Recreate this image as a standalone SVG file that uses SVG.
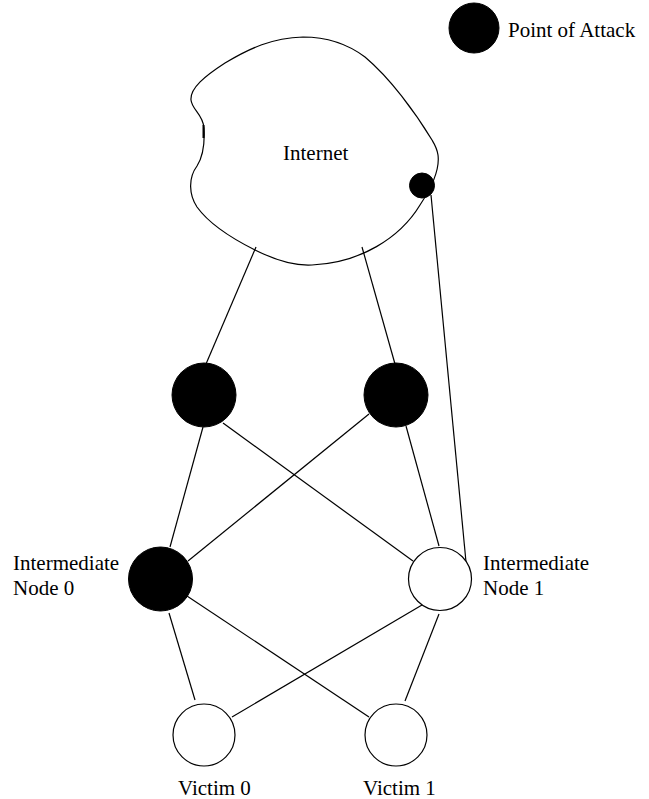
<svg xmlns="http://www.w3.org/2000/svg" width="649" height="799" viewBox="0 0 649 799">
<style>
.t{font-family:"Liberation Serif","Times New Roman",serif;font-size:21px;fill:#000}
.c{stroke:#000;stroke-width:1.2;fill:none}
.atk{fill:#000;stroke:#000;stroke-width:1}
.nd{fill:#fff;stroke:#000;stroke-width:1.2}
</style>
<rect width="649" height="799" fill="#fff"/>
<g id="legend">
<circle class="atk" cx="474" cy="28" r="25"/>
<text class="t" x="508" y="37">Point of Attack</text>
</g>
<g id="connectors">
<line class="c" x1="256" y1="247" x2="206" y2="364"/>
<line class="c" x1="362" y1="247" x2="395" y2="364"/>
<line class="c" x1="431" y1="195" x2="466" y2="562"/>
<line class="c" x1="203" y1="427" x2="170" y2="547"/>
<line class="c" x1="223" y1="423" x2="413" y2="561"/>
<line class="c" x1="369" y1="414" x2="188" y2="561"/>
<line class="c" x1="406" y1="426" x2="439" y2="546"/>
<line class="c" x1="169" y1="613" x2="195" y2="700"/>
<line class="c" x1="187" y1="596" x2="369" y2="717"/>
<line class="c" x1="422" y1="605" x2="232" y2="717"/>
<line class="c" x1="439" y1="614" x2="405" y2="701"/>
</g>
<g id="internet">
<path class="c" d="M303,37 C272,38 250,48 225,63 C205,76 190,88 191,100 C192,110 203,114 204,128 C205,145 202,158 197,166 C188,178 189,195 197,207 C210,225 235,240 255,250 C275,260 295,266 312,265 C360,263 400,238 420,205 C430,190 440,170 438,155 C437,148 435,145 432,140 C415,112 390,78 365,57 C345,42 325,37 303,37 Z"/>
<line x1="203.5" y1="125" x2="203.5" y2="138" stroke="#000" stroke-width="2"/>
<text class="t" x="283" y="160">Internet</text>
<circle class="atk" cx="422" cy="185.5" r="12.5"/>
</g>
<g id="attackA"><circle class="atk" cx="204" cy="395" r="32"/></g>
<g id="attackB"><circle class="atk" cx="396" cy="395" r="32"/></g>
<g id="int0">
<circle class="atk" cx="160.5" cy="579" r="32"/>
<text class="t" x="13" y="570">Intermediate</text>
<text class="t" x="13" y="595">Node 0</text>
</g>
<g id="int1">
<circle class="nd" cx="440" cy="579" r="31.5"/>
<text class="t" x="483" y="570">Intermediate</text>
<text class="t" x="483" y="595">Node 1</text>
</g>
<g id="victim0">
<circle class="nd" cx="204" cy="735" r="31"/>
<text class="t" x="178" y="795">Victim 0</text>
</g>
<g id="victim1">
<circle class="nd" cx="396" cy="735" r="31"/>
<text class="t" x="363" y="795">Victim 1</text>
</g>
</svg>
